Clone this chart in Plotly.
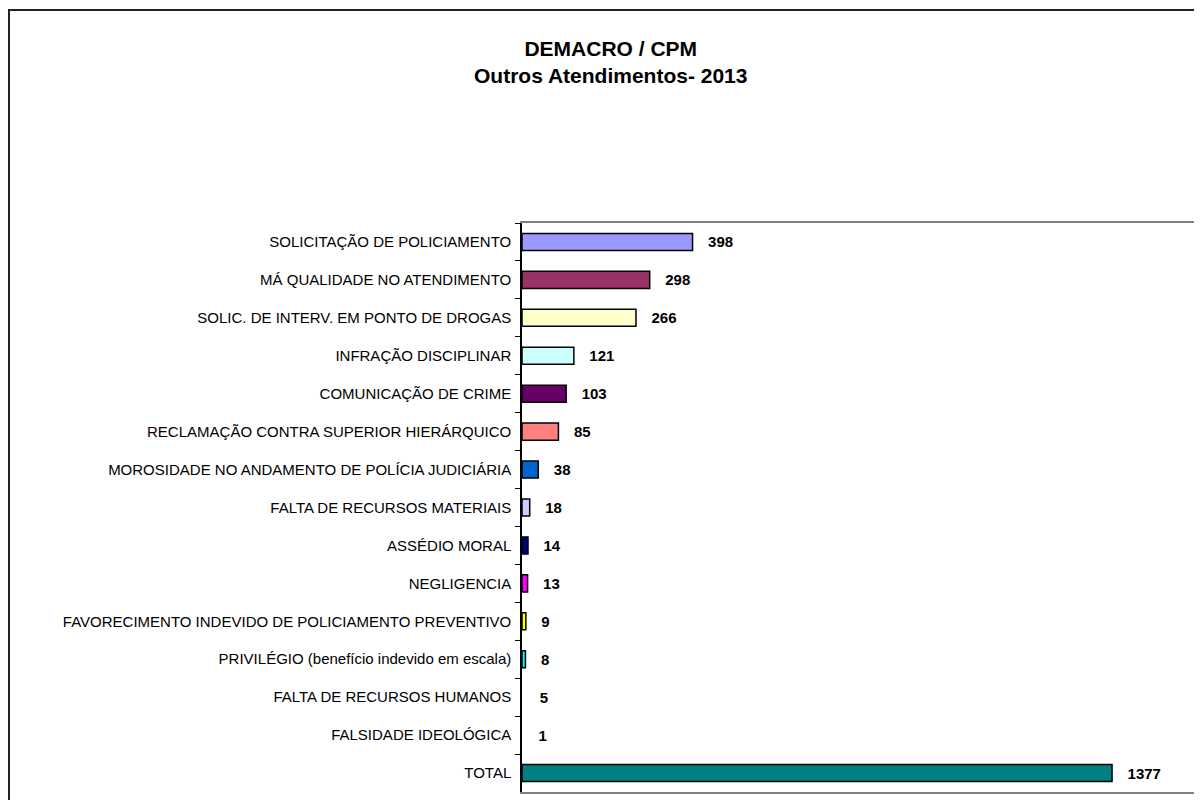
import plotly.graph_objects as go

categories = [
    "SOLICITAÇÃO DE POLICIAMENTO",
    "MÁ QUALIDADE NO ATENDIMENTO",
    "SOLIC. DE INTERV. EM PONTO DE DROGAS",
    "INFRAÇÃO DISCIPLINAR",
    "COMUNICAÇÃO DE CRIME",
    "RECLAMAÇÃO CONTRA SUPERIOR HIERÁRQUICO",
    "MOROSIDADE NO ANDAMENTO DE POLÍCIA JUDICIÁRIA",
    "FALTA DE RECURSOS MATERIAIS",
    "ASSÉDIO MORAL",
    "NEGLIGENCIA",
    "FAVORECIMENTO INDEVIDO DE POLICIAMENTO PREVENTIVO",
    "PRIVILÉGIO (benefício indevido em escala)",
    "FALTA DE RECURSOS HUMANOS",
    "FALSIDADE IDEOLÓGICA",
    "TOTAL",
]
values = [398, 298, 266, 121, 103, 85, 38, 18, 14, 13, 9, 8, 5, 1, 1377]
colors = [
    "#9999FF", "#993366", "#FFFFCC", "#CCFFFF", "#660066", "#FF8080",
    "#0066CC", "#CCCCFF", "#000080", "#FF00FF", "#FFFF00", "#00FFFF",
    "#FFFFFF", "#FFFFFF", "#008080",
]
outline_widths = [1.5] * 12 + [0, 0] + [1.5]

# page body has an 8px margin, so figure coords = screen coords - 8
W, H = 1194, 792
ML, MR, MT, MB = 514, 0, 215, 8
plot_w = W - ML - MR
plot_h = H - MT - MB
FONT = "Liberation Sans, Arial, sans-serif"

fig = go.Figure(
    go.Bar(
        x=values,
        y=categories,
        orientation="h",
        marker=dict(color=colors, line=dict(color="black", width=outline_widths)),
        text=values,
        texttemplate="   <b>%{text}</b>",
        textposition="outside",
        textfont=dict(family=FONT, size=15, color="black"),
        cliponaxis=False,
        hoverinfo="x+y",
    )
)

fig.update_layout(
    width=W,
    height=H,
    margin=dict(l=ML, r=MR, t=MT, b=MB),
    paper_bgcolor="white",
    plot_bgcolor="white",
    showlegend=False,
    bargap=0.55,
    font=dict(family=FONT, color="black"),
    xaxis=dict(
        range=[0, plot_w / 0.4285],
        showgrid=False,
        zeroline=False,
        showticklabels=False,
        ticks="",
        showline=True,
        linecolor="#808080",
        linewidth=2,
        mirror=True,
    ),
    yaxis=dict(
        categoryorder="array",
        categoryarray=categories,
        autorange="reversed",
        showgrid=False,
        showline=True,
        linecolor="black",
        linewidth=1.5,
        ticks="outside",
        ticklen=5,
        tickcolor="black",
        tickson="boundaries",
        tickfont=dict(family=FONT, size=15, color="black"),
        ticklabelstandoff=6,
    ),
)

fig.add_annotation(
    text="<b>DEMACRO / CPM</b><br><b>Outros Atendimentos- 2013</b>",
    xref="paper", yref="paper",
    x=(602 - ML) / plot_w,
    y=(H - MB - 53.5) / plot_h,
    xanchor="center", yanchor="middle",
    showarrow=False,
    font=dict(family=FONT, size=21, color="black"),
    align="center",
)

# outer chart frame
fig.add_shape(
    type="rect",
    xref="paper", yref="paper",
    x0=(1 - ML) / plot_w, x1=1.05,
    y0=-0.05, y1=(H - MB - 2) / plot_h,
    line=dict(color="#222222", width=2),
    fillcolor="rgba(0,0,0,0)",
    layer="below",
)

fig.write_html("out.html")
